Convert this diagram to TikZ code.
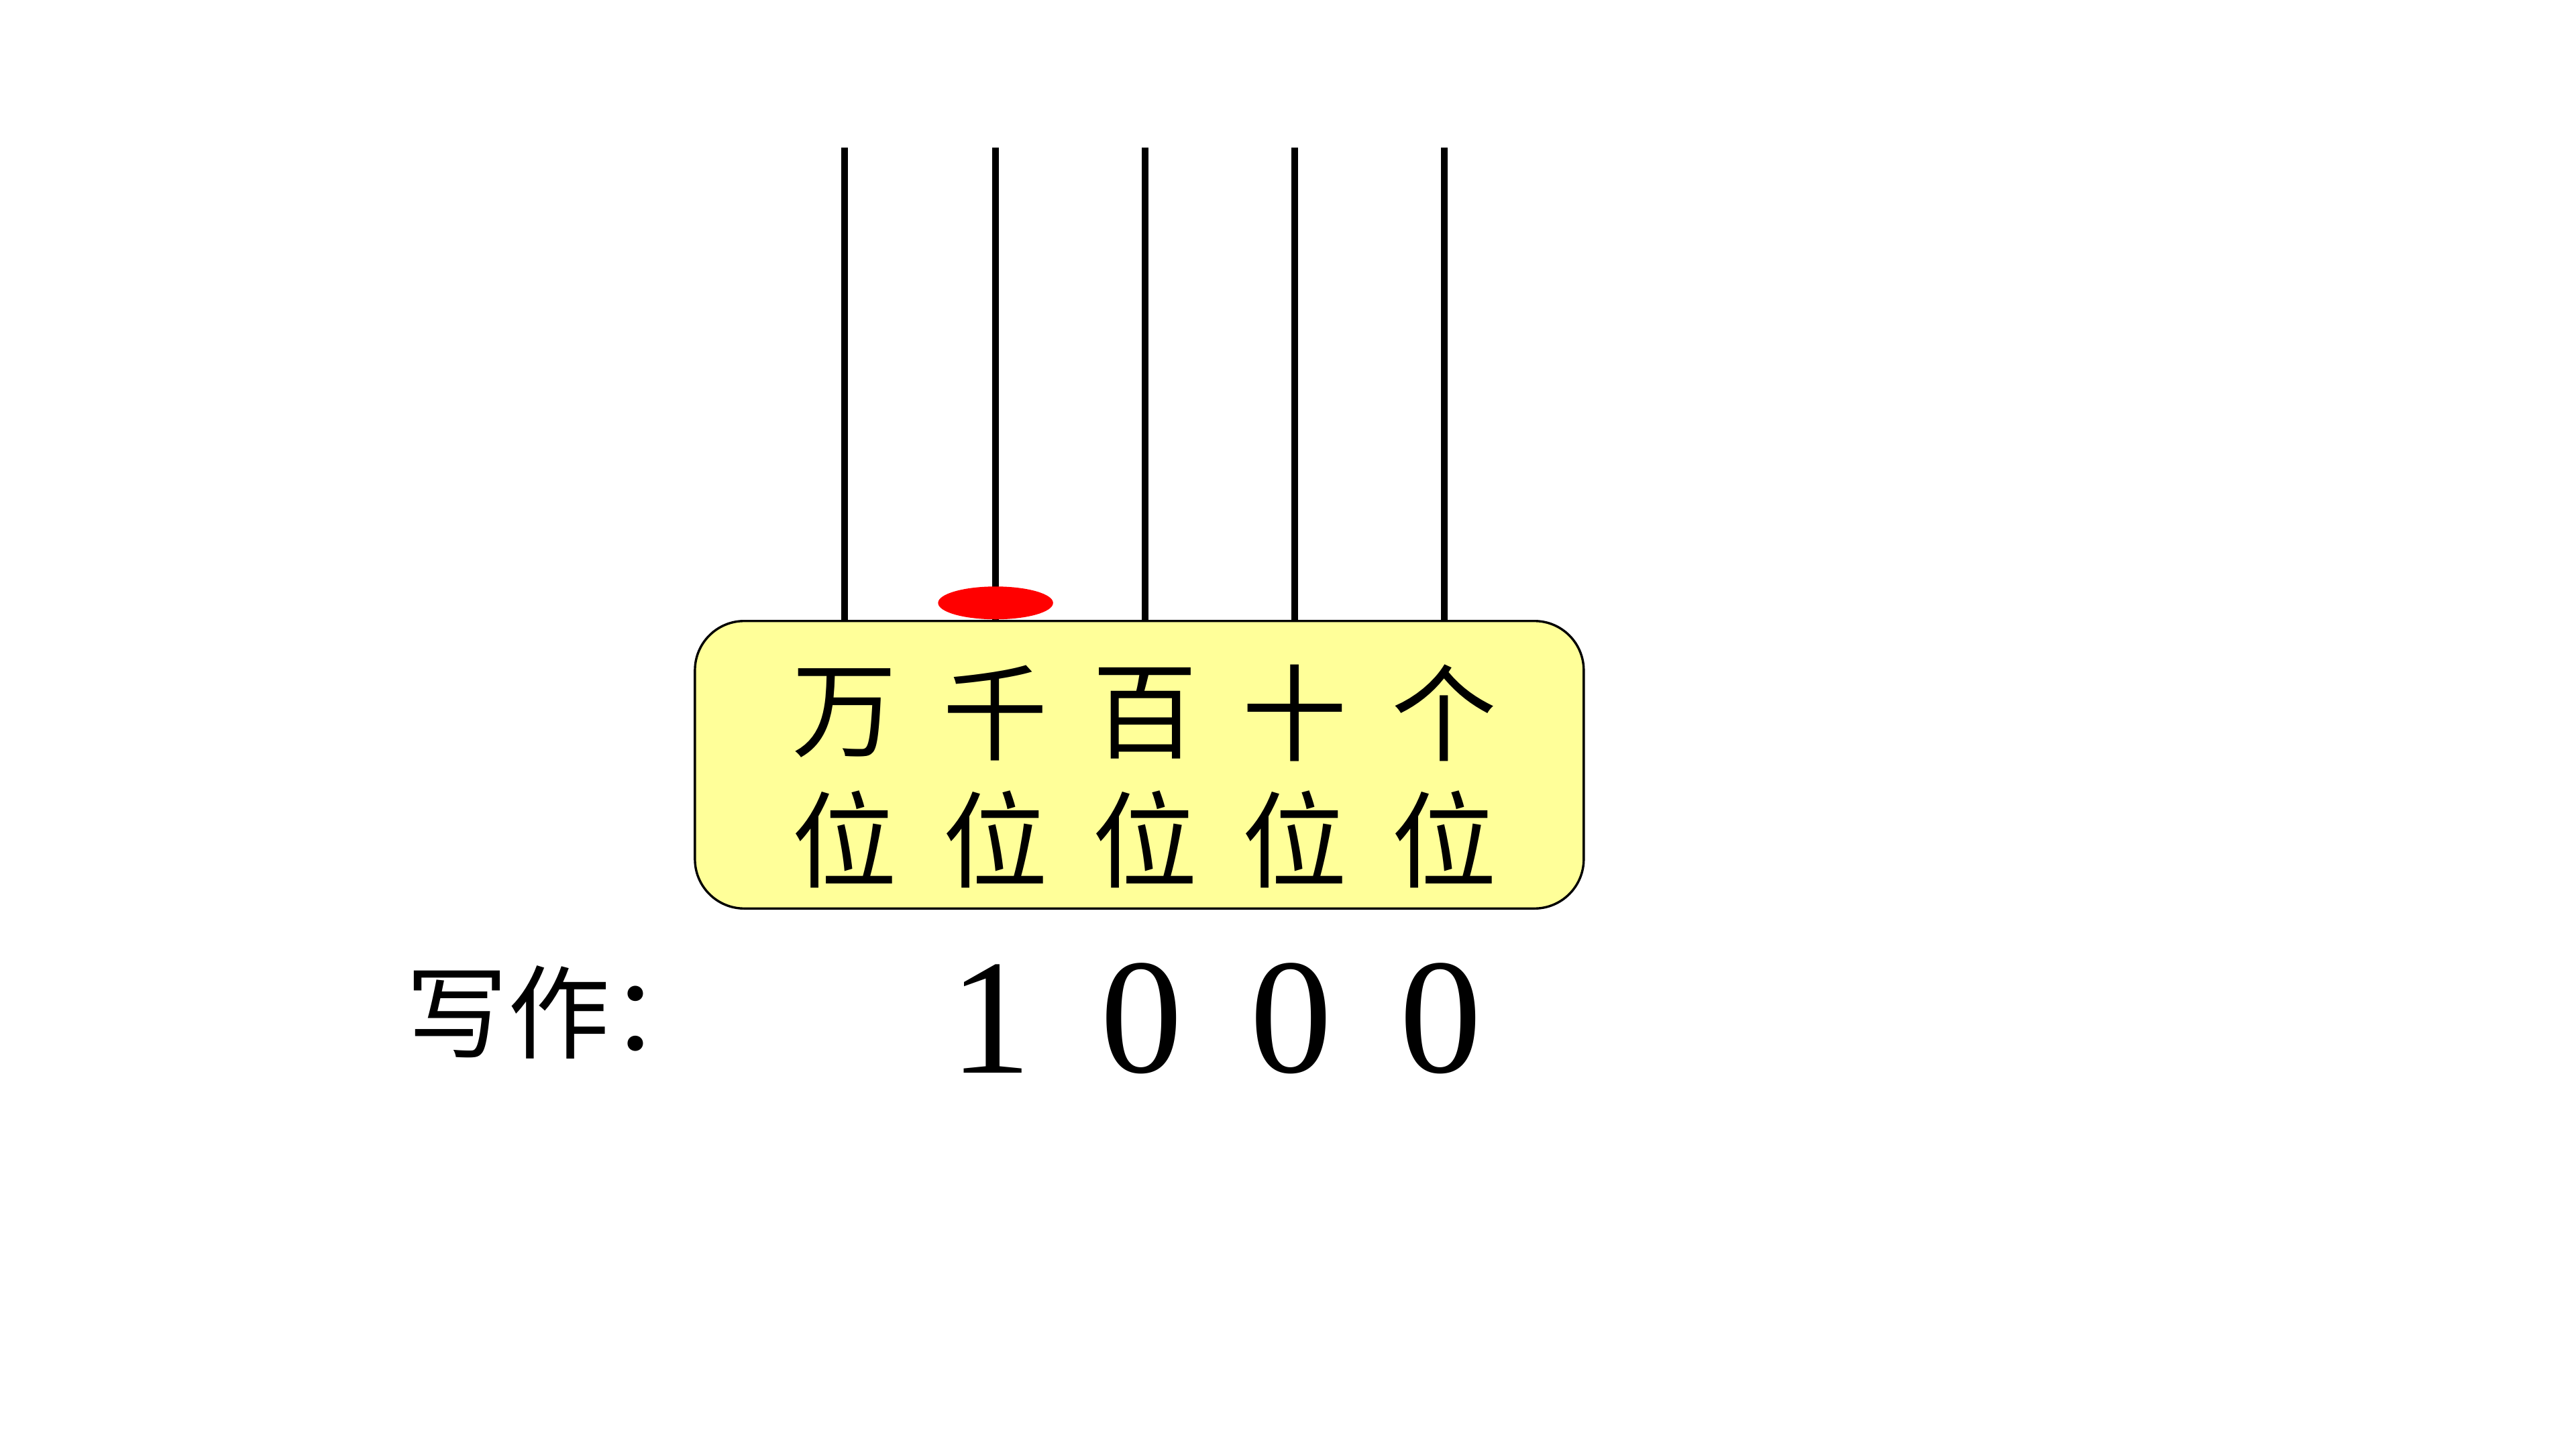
\documentclass[tikz,border=0pt]{standalone}
\usepackage{fontspec}
\usetikzlibrary{shapes.geometric}
\setmainfont{Liberation Serif}
\newfontfamily\cjk{Noto Sans CJK SC}
\definecolor{boxyellow}{HTML}{FFFF99}
\begin{document}
\begin{tikzpicture}[x=1pt,y=-1pt,
  rod/.style={line width=4.2pt,black},
  placebox/.style={draw=black,line width=1.4pt,fill=boxyellow,rounded corners=30pt},
  cjklabel/.style={font=\cjk\fontsize{64}{66}\selectfont,inner sep=0pt},
  digit/.style={font=\fontsize{100}{100}\selectfont,inner sep=0pt}]
\useasboundingbox (0,0) rectangle (1568,882);
% box
\draw[placebox] (423,378) rectangle (964,553);
% rods
\foreach \i/\x in {1/514,2/606,3/697,4/788,5/879}{
  \coordinate (top\i) at (\x,90);
  \coordinate (bot\i) at (\x,378);
  \draw[rod] (top\i) -- (bot\i);
}
% bead
\node[ellipse,fill=red,minimum width=70pt,minimum height=20pt,inner sep=0pt] (bead) at (606,367) {};
% labels
\foreach \i/\x/\c in {1/514/万,2/606/千,3/697/百,4/788/十,5/879/个}{
  \node[cjklabel] (c\i) at (\x,434) {\c};
  \node[cjklabel] (w\i) at (\x,511) {位};
}
\node[cjklabel,anchor=west,font=\cjk\fontsize{62}{64}\selectfont] (write) at (247,616) {写作：};
\node[digit] (d1) at (603,620) {1};
\node[digit] (d2) at (695,620) {0};
\node[digit] (d3) at (786,620) {0};
\node[digit] (d4) at (877,620) {0};
\end{tikzpicture}
\end{document}
